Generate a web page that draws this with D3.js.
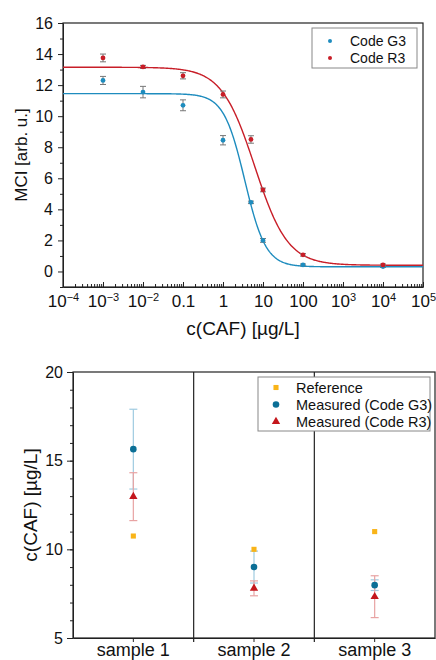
<!DOCTYPE html>
<html>
<head>
<meta charset="utf-8">
<script src="https://cdn.jsdelivr.net/npm/d3@7"></script>
<style>
body { margin: 0; background: #fff; }
svg { font-family: "Liberation Sans", Arial, sans-serif; }
</style>
</head>
<body>
<div id="chart"></div>
<script>
// ---- top panel: MCI vs c(CAF) ----
var conc = [1e-3, 1e-2, 0.1, 1, 5, 10, 100, 1e4];
var mciG3 = [12.3, 11.55, 10.7, 8.45, 4.45, 2.0, 0.42, 0.32];
var errG3 = [0.26, 0.37, 0.35, 0.3, 0.08, 0.12, 0.06, 0.06];
var mciR3 = [13.75, 13.17, 12.6, 11.4, 8.5, 5.25, 1.07, 0.42];
var errR3 = [0.25, 0.1, 0.2, 0.22, 0.24, 0.12, 0.08, 0.06];
// 4PL fit: top, bottom, EC50, hill slope
var fitG3 = [11.45, 0.3, 3.5, 1.65];
var fitR3 = [13.15, 0.4, 6.2, 1.05];
var xTickVals = [1e-4, 1e-3, 1e-2, 0.1, 1, 10, 100, 1e3, 1e4, 1e5];
var xTickLabels = [["10", "\u22124"], ["10", "\u22123"], ["10", "\u22122"], ["0.1"], ["1"], ["10"], ["100"], ["10", "3"], ["10", "4"], ["10", "5"]];
var yTickVals = [0, 2, 4, 6, 8, 10, 12, 14, 16];
var legendTop = ["Code G3", "Code R3"];

// ---- bottom panel: sample concentrations ----
var samples = ["sample 1", "sample 2", "sample 3"];
var refVals = [10.75, 10.0, 11.0];
var g3Vals = [15.65, 9.0, 7.98];
var g3Err = [2.25, 0.9, 0.3];
var r3Vals = [12.97, 7.8, 7.33];
var r3Err = [1.35, 0.42, 1.18];
var yTickVals2 = [5, 10, 15, 20];
var legendBottom = ["Reference", "Measured (Code G3)", "Measured (Code R3)"];

var blue = "#1e8cbe", red = "#c81e28";
var refCol = "#f9b418", tealCol = "#0b6f96", tealErr = "#9fcbe0", redCol = "#c4161c", redErr = "#e8a3a3";

var svg = d3.select("#chart").append("svg")
    .attr("width", 436)
    .attr("height", 660);

// ================= top chart =================
var m1 = {left: 63, top: 23, right: 423, bottom: 287};
var x = d3.scaleLog().domain([1e-4, 1e5]).range([m1.left, m1.right]);
var y = d3.scaleLinear().domain([-1, 16]).range([m1.bottom, m1.top]);

var gTop = svg.append("g");

// minor ticks
var minorX = [];
for (var d = -4; d < 5; d++) {
  for (var k = 2; k < 10; k++) minorX.push(k * Math.pow(10, d));
}
gTop.append("g")
    .attr("transform", "translate(0," + m1.bottom + ")")
    .call(d3.axisBottom(x).tickValues(minorX).tickSizeInner(-3).tickSizeOuter(0).tickFormat(""))
    .call(function(g) { g.select(".domain").remove(); });

var xAx = gTop.append("g")
    .attr("transform", "translate(0," + m1.bottom + ")")
    .call(d3.axisBottom(x).tickValues(xTickVals).tickSizeInner(-5).tickSizeOuter(0).tickPadding(8).tickFormat(""));
xAx.selectAll(".tick text").each(function(d, i) {
  var t = d3.select(this).attr("font-size", 17).attr("fill", "#111");
  var lab = xTickLabels[i];
  t.append("tspan").text(lab[0]);
  if (lab[1]) t.append("tspan").attr("font-size", 11).attr("dy", "-0.55em").text(lab[1]);
});

gTop.append("g")
    .attr("transform", "translate(" + m1.left + ",0)")
    .call(d3.axisLeft(y).tickValues([-1, 1, 3, 5, 7, 9, 11, 13, 15]).tickSizeInner(3).tickSizeOuter(0).tickFormat(""))
    .call(function(g) { g.select(".domain").remove(); });
gTop.append("g")
    .attr("transform", "translate(" + m1.left + ",0)")
    .call(d3.axisLeft(y).tickValues(yTickVals).tickSizeInner(5).tickSizeOuter(0).tickPadding(5))
    .selectAll("text").attr("font-size", 16).attr("fill", "#111");

gTop.selectAll(".domain, .tick line").attr("stroke", "#222");

gTop.append("rect")
    .attr("x", m1.left).attr("y", m1.top)
    .attr("width", m1.right - m1.left).attr("height", m1.bottom - m1.top)
    .attr("fill", "none").attr("stroke", "#222").attr("stroke-width", 1.2);

// fitted curves
function logistic(p) {
  return function(c) { return p[1] + (p[0] - p[1]) / (1 + Math.pow(c / p[2], p[3])); };
}
var xs = d3.range(-4, 5.001, 0.02).map(function(e) { return Math.pow(10, e); });
var line = d3.line().x(function(d) { return x(d[0]); }).y(function(d) { return y(d[1]); });
[[fitG3, blue], [fitR3, red]].forEach(function(f) {
  var fn = logistic(f[0]);
  gTop.append("path")
      .datum(xs.map(function(c) { return [c, fn(c)]; }))
      .attr("d", line)
      .attr("fill", "none")
      .attr("stroke", f[1])
      .attr("stroke-width", 1.4);
});

// points with error bars
function drawSeries(vals, errs, col) {
  var g = gTop.append("g");
  conc.forEach(function(c, i) {
    var cx = x(c);
    var y0 = y(vals[i] - errs[i]), y1 = y(vals[i] + errs[i]);
    g.append("line").attr("x1", cx).attr("x2", cx).attr("y1", y0).attr("y2", y1).attr("stroke", "#777");
    g.append("line").attr("x1", cx - 3).attr("x2", cx + 3).attr("y1", y0).attr("y2", y0).attr("stroke", "#777");
    g.append("line").attr("x1", cx - 3).attr("x2", cx + 3).attr("y1", y1).attr("y2", y1).attr("stroke", "#777");
  });
  g.selectAll("circle").data(vals).enter().append("circle")
      .attr("cx", function(d, i) { return x(conc[i]); })
      .attr("cy", function(d) { return y(d); })
      .attr("r", 2.4)
      .attr("fill", col);
}
drawSeries(mciG3, errG3, blue);
drawSeries(mciR3, errR3, red);

// legend
var lg = gTop.append("g");
lg.append("rect").attr("x", 312).attr("y", 28).attr("width", 105).attr("height", 40)
    .attr("fill", "#fff").attr("stroke", "#888");
legendTop.forEach(function(name, i) {
  lg.append("circle").attr("cx", 330).attr("cy", 41 + i * 17).attr("r", 2).attr("fill", i === 0 ? blue : red);
  lg.append("text").attr("x", 350).attr("y", 46 + i * 17).attr("font-size", 14).attr("fill", "#111").text(name);
});

// axis titles
gTop.append("text")
    .attr("transform", "translate(27," + ((m1.top + m1.bottom) / 2) + ") rotate(-90)")
    .attr("text-anchor", "middle").attr("font-size", 17).attr("fill", "#111")
    .text("MCI [arb. u.]");
gTop.append("text")
    .attr("x", (m1.left + m1.right) / 2).attr("y", 335)
    .attr("text-anchor", "middle").attr("font-size", 19).attr("fill", "#111")
    .text("c(CAF) [\u00b5g/L]");

// ================= bottom chart =================
var m2 = {left: 73, top: 372, right: 435, bottom: 638};
var xb = d3.scaleBand().domain(samples).range([m2.left, m2.right]);
var yb = d3.scaleLinear().domain([5, 20]).range([m2.bottom, m2.top]);

var gBot = svg.append("g");

gBot.append("g")
    .attr("transform", "translate(" + m2.left + ",0)")
    .call(d3.axisLeft(yb).tickValues(d3.range(5, 21)).tickSizeInner(3).tickSizeOuter(0).tickFormat(""))
    .call(function(g) { g.select(".domain").remove(); });
gBot.append("g")
    .attr("transform", "translate(" + m2.left + ",0)")
    .call(d3.axisLeft(yb).tickValues(yTickVals2).tickSizeInner(6).tickSizeOuter(0).tickPadding(4))
    .selectAll("text").attr("font-size", 16).attr("fill", "#111");

var xbAx = gBot.append("g")
    .attr("transform", "translate(0," + m2.bottom + ")")
    .call(d3.axisBottom(xb).tickSizeInner(4).tickSizeOuter(0).tickPadding(1));
xbAx.selectAll("text").attr("font-size", 18).attr("fill", "#111");

// separators between samples
var seps = samples.slice(1).map(function(s) { return xb(s); });
seps.forEach(function(sx) {
  gBot.append("line").attr("x1", sx).attr("x2", sx).attr("y1", m2.top).attr("y2", m2.bottom + 4)
      .attr("stroke", "#222").attr("stroke-width", 1.2);
});

gBot.selectAll(".domain, .tick line").attr("stroke", "#222");

gBot.append("rect")
    .attr("x", m2.left).attr("y", m2.top)
    .attr("width", m2.right - m2.left).attr("height", m2.bottom - m2.top)
    .attr("fill", "none").attr("stroke", "#222").attr("stroke-width", 1.2);

function cx2(i) { return xb(samples[i]) + xb.bandwidth() / 2; }

function errBars(vals, errs, col) {
  vals.forEach(function(v, i) {
    var cx = cx2(i), y0 = yb(v - errs[i]), y1 = yb(v + errs[i]);
    gBot.append("line").attr("x1", cx).attr("x2", cx).attr("y1", y0).attr("y2", y1).attr("stroke", col).attr("stroke-width", 1.2);
    gBot.append("line").attr("x1", cx - 4).attr("x2", cx + 4).attr("y1", y0).attr("y2", y0).attr("stroke", col).attr("stroke-width", 1.2);
    gBot.append("line").attr("x1", cx - 4).attr("x2", cx + 4).attr("y1", y1).attr("y2", y1).attr("stroke", col).attr("stroke-width", 1.2);
  });
}
errBars(g3Vals, g3Err, tealErr);
errBars(r3Vals, r3Err, redErr);

var sq = d3.symbol().type(d3.symbolSquare).size(26);
var circ = d3.symbol().type(d3.symbolCircle).size(34);
var tri = d3.symbol().type(d3.symbolTriangle).size(30);

gBot.selectAll(".ref").data(refVals).enter().append("path")
    .attr("d", sq)
    .attr("transform", function(d, i) { return "translate(" + cx2(i) + "," + yb(d) + ")"; })
    .attr("fill", refCol);
gBot.selectAll(".g3").data(g3Vals).enter().append("path")
    .attr("d", circ)
    .attr("transform", function(d, i) { return "translate(" + cx2(i) + "," + yb(d) + ")"; })
    .attr("fill", tealCol);
gBot.selectAll(".r3").data(r3Vals).enter().append("path")
    .attr("d", tri)
    .attr("transform", function(d, i) { return "translate(" + cx2(i) + "," + yb(d) + ")"; })
    .attr("fill", redCol);

// legend
var lg2 = gBot.append("g");
lg2.append("rect").attr("x", 258).attr("y", 377).attr("width", 172).attr("height", 54)
    .attr("fill", "#fff").attr("stroke", "#888");
var legSyms = [[sq, refCol], [circ, tealCol], [tri, redCol]];
legendBottom.forEach(function(name, i) {
  var ly = 387.5 + i * 17;
  lg2.append("path").attr("d", legSyms[i][0]).attr("transform", "translate(276," + ly + ")").attr("fill", legSyms[i][1]);
  lg2.append("text").attr("x", 296).attr("y", ly + 5).attr("font-size", 14.5).attr("fill", "#111").text(name);
});

gBot.append("text")
    .attr("transform", "translate(37," + ((m2.top + m2.bottom) / 2) + ") rotate(-90)")
    .attr("text-anchor", "middle").attr("font-size", 19).attr("fill", "#111")
    .text("c(CAF) [\u00b5g/L]");
</script>
</body>
</html>
